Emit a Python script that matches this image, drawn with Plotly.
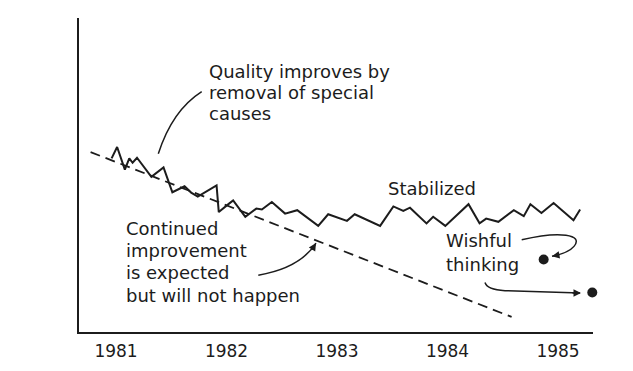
import plotly.graph_objects as go

# ---------------- data (years, arbitrary proportion units 0-100) ----------------
trend_years = [1980.77, 1984.58]
trend_vals = [57.3, 4.8]

obs_years = [1980.96, 1981.01, 1981.08, 1981.12, 1981.15, 1981.19, 1981.32, 1981.43,
             1981.51, 1981.62, 1981.68, 1981.74, 1981.91, 1981.93, 1982.02,
             1982.06, 1982.17, 1982.27, 1982.32, 1982.41, 1982.53, 1982.64, 1982.83,
             1982.92, 1983.09, 1983.16, 1983.39, 1983.51, 1983.60, 1983.66, 1983.81,
             1983.87, 1983.98, 1984.19, 1984.29, 1984.35, 1984.46, 1984.60, 1984.69,
             1984.75, 1984.85, 1984.96, 1985.14, 1985.20]
obs_vals = [55.3, 58.9, 51.7, 55.3, 53.9, 55.5, 49.4, 52.4,
            44.5, 46.4, 44.4, 43.1, 46.7, 38.2, 40.8,
            41.9, 36.7, 39.3, 39.0, 41.4, 37.7, 38.8, 33.8,
            37.5, 35.4, 37.5, 33.8, 40.0, 38.6, 39.6, 34.6,
            36.7, 33.8, 40.7, 34.6, 36.1, 35.1, 38.8, 36.9,
            40.7, 37.9, 41.1, 35.6, 39.0]

wish_years = [1984.87, 1985.31]
wish_vals = [23.1, 12.6]

tick_years = [1981, 1982, 1983, 1984, 1985]
tick_labels = ["1981", "1982", "1983", "1984", "1985"]

# ---------------- layout helpers ----------------
W, H = 633, 371
L, R, T, B = 79, 40, 18, 34
BODY = 8  # default page margin around the plot div
X0 = 1980.665
X1 = X0 + (W - L - R) / 110.5
Y0, Y1 = 0, 100
FONT = "DejaVu Sans"
INK = "#1c1c1c"


def px_x(px):
    return X0 + (px - L) / (W - L - R) * (X1 - X0)


def px_y(py):
    return Y0 + (H - B - py) / (H - T - B) * (Y1 - Y0)


def pt(px, py):
    return f"{px_x(px):.5f},{px_y(py):.5f}"


fig = go.Figure()

fig.add_trace(go.Scatter(x=trend_years, y=trend_vals, mode="lines",
                         line=dict(color=INK, width=1.8, dash="10px,6px"),
                         hoverinfo="skip", showlegend=False))
fig.add_trace(go.Scatter(x=obs_years, y=obs_vals, mode="lines",
                         line=dict(color=INK, width=2),
                         hoverinfo="skip", showlegend=False))
fig.add_trace(go.Scatter(x=wish_years, y=wish_vals, mode="markers",
                         marker=dict(color=INK, size=10),
                         cliponaxis=False, hoverinfo="skip", showlegend=False))

# curved leader lines
curves = [
    f"M {pt(201.7, 92.7)} Q {pt(172, 112)} {pt(158.3, 156)}",
    f"M {pt(258.3, 279.3)} Q {pt(300, 272)} {pt(316, 246.7)}",
    f"M {pt(521.7, 243.3)} C {pt(560, 234)} {pt(584, 238)} {pt(574, 250)} Q {pt(568, 257)} {pt(552, 260)}",
    f"M {pt(485, 286.7)} Q {pt(487, 294)} {pt(505, 295)} L {pt(580, 297.3)}",
]
shapes = [dict(type="path", path=p, xref="x", yref="y",
               line=dict(color=INK, width=1.5)) for p in curves]

annotations = []


def text(s, px, py, xanchor="left", size=18, angle=0):
    annotations.append(dict(text=s, x=px_x(px), y=px_y(py), xref="x", yref="y",
                            xanchor=xanchor, yanchor="middle", showarrow=False,
                            textangle=angle,
                            font=dict(family=FONT, size=size, color=INK)))


def head(px, py, dx, dy):
    annotations.append(dict(text="", x=px_x(px), y=px_y(py), xref="x", yref="y",
                            ax=dx, ay=dy, showarrow=True, arrowhead=2,
                            arrowsize=1, arrowwidth=1.5, arrowcolor=INK, standoff=0))


for i, s in enumerate(["Quality improves by", "removal of special", "causes"]):
    text(s, 207, 72 + 21.7 * i)
for i, s in enumerate(["Continued", "improvement", "is expected", "but will not happen"]):
    text(s, 124, 232 + 22.5 * i)
text("Stabilized", 432, 191, xanchor="center")
text("Wishful", 444, 244)
text("thinking", 444, 268)
text("Proportion of items found", 27, 177, xanchor="center", angle=-90)
text("faulty at final audit", 53, 177, xanchor="center", angle=-90)

head(316, 246.7, -5, 8)
head(552, 260, 8, -1.5)
head(581, 297.3, -10, 0)

fig.update_layout(
    width=W - BODY, height=H - BODY,
    margin=dict(l=L - BODY, r=R, t=T - BODY, b=B, pad=0),
    paper_bgcolor="white", plot_bgcolor="white",
    shapes=shapes, annotations=annotations,
    xaxis=dict(range=[X0, X1], tickvals=tick_years, ticktext=tick_labels,
               showgrid=False, zeroline=False, showline=True, linecolor=INK,
               linewidth=2, ticks="", ticklabelstandoff=3,
               tickfont=dict(family=FONT, size=17, color=INK)),
    yaxis=dict(range=[Y0, Y1], showticklabels=False, showgrid=False, zeroline=False,
               showline=True, linecolor=INK, linewidth=2, ticks=""),
)

fig.write_html("out.html")
